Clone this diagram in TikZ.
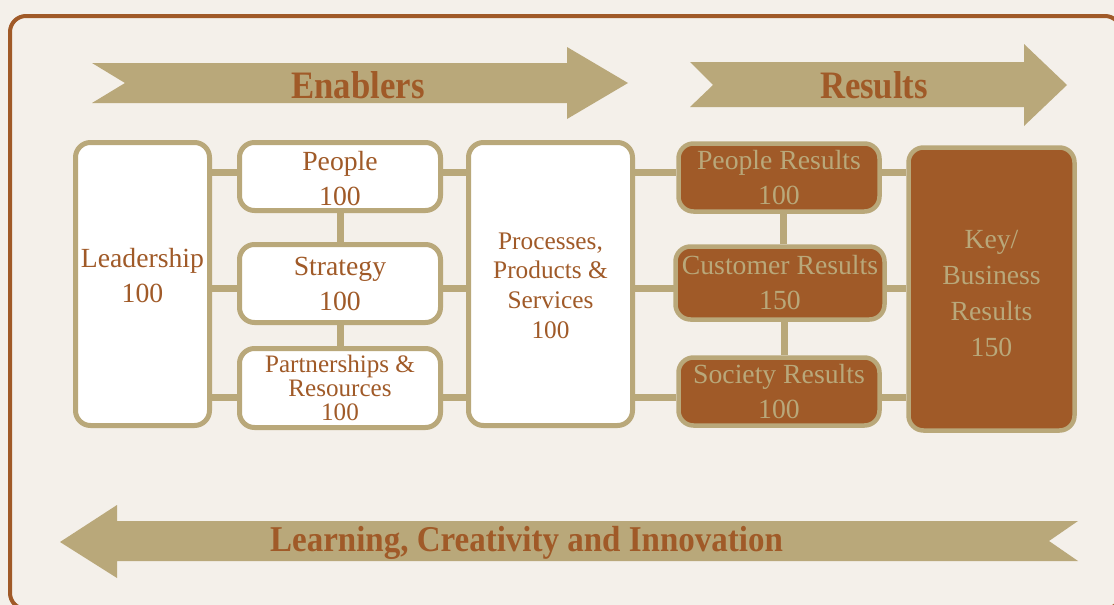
\documentclass[tikz,border=0pt]{standalone}
\usepackage{fontspec}
\setmainfont{Liberation Serif}
\usetikzlibrary{backgrounds}
\definecolor{bg}{HTML}{F4F0EA}
\definecolor{tan}{HTML}{B9A87A}
\definecolor{brn}{HTML}{A05A28}
\begin{document}
\begin{tikzpicture}[x=1pt,y=-1pt,
  wbox/.style={draw=tan,line width=5pt,fill=white,rounded corners=15pt,inner sep=0pt,text=brn,align=center},
  bbox/.style={draw=tan,line width=4.5pt,fill=brn,rounded corners=15pt,inner sep=0pt,text=tan,align=center},
  link/.style={draw=tan,line width=7pt},
  band/.style={fill=tan},
  ttl/.style={text=brn,inner sep=0pt,anchor=base},
  fbig/.style={font=\fontsize{27.7}{35}\selectfont},
  fkey/.style={font=\fontsize{27.7}{36}\selectfont},
  fpart/.style={font=\fontsize{25.1}{24.3}\selectfont},
  fproc/.style={font=\fontsize{25.3}{29.6}\selectfont}
]
\useasboundingbox (0,0) rectangle (1114,605);

% arrows
\fill[band] (92,63) -- (567,63) -- (567,47) -- (628,83) -- (567,119) -- (567,103) -- (92,103) -- (125,83) -- cycle;
\fill[band] (690,62) -- (1024,62) -- (1024,44) -- (1067,85) -- (1024,126) -- (1024,107) -- (690,107) -- (713,85) -- cycle;
\fill[band] (1078,521) -- (117,521) -- (117,505) -- (60,542) -- (117,578) -- (117,561) -- (1078,561) -- (1049,541) -- cycle;
\node[ttl,font=\fontsize{34.7}{40}\selectfont\bfseries] (en) at (358,98) {\scalebox{1}[1.12]{Enablers}};
\node[ttl,font=\fontsize{34.7}{40}\selectfont\bfseries] (re) at (874,98) {\scalebox{1}[1.12]{Results}};
\node[ttl,font=\fontsize{33}{40}\selectfont\bfseries] (lci) at (526.5,551) {\scalebox{1}[1.1]{Learning, Creativity and Innovation}};

% boxes
\node[wbox,minimum width=134pt,minimum height=283pt] (lead) at (142.5,284) {};
\node[text=brn,fbig,align=center,inner sep=0pt] (leadT) at ([yshift=8pt]lead.center) {Leadership\\100};
\node[wbox,fbig,minimum width=201pt,minimum height=68pt] (people) at (340,176.5) {};
\node[text=brn,fbig,align=center,inner sep=0pt] (peopleT) at ([yshift=-2pt]people.center) {People\\100};
\node[wbox,fbig,minimum width=201pt,minimum height=78pt] (strat) at (340,283.5) {Strategy\\100};
\node[wbox,fpart,minimum width=201pt,minimum height=79pt] (part) at (340,388) {Partnerships \&\\Resources\\100};
\node[wbox,fproc,minimum width=164pt,minimum height=283pt] (proc) at (550.5,284) {};
\node[text=brn,fproc,align=center,inner sep=0pt] (procT) at ([yshift=-1.5pt]proc.center) {Processes,\\Products \&\\Services\\100};
\node[bbox,fbig,minimum width=201pt,minimum height=68pt] (pres) at (779,177.5) {People Results\\100};
\node[bbox,fbig,minimum width=209pt,minimum height=73pt] (cres) at (780,283) {Customer Results\\150};
\node[bbox,fbig,minimum width=201pt,minimum height=68pt] (sres) at (779,391.5) {Society Results\\100};
\node[bbox,minimum width=166pt,minimum height=283pt] (key) at (991.5,289) {};
\node[text=tan,fkey,align=center,inner sep=0pt] (keyT) at ([yshift=-5pt]key.center) {Key/\\Business\\Results\\150};

\coordinate (r1) at (0,172);
\coordinate (r2) at (0,288);
\coordinate (r3) at (0,397);

\begin{scope}[on background layer]
\fill[bg] (0,0) rectangle (1114,605);
\draw[brn,line width=4pt,rounded corners=16pt] (10,16) rectangle (1121,609);
\foreach \r in {r1,r2,r3}{
  \path[link] (lead.east |- \r) -- (people.west |- \r);
  \path[link] (people.east |- \r) -- (proc.west |- \r);
  \path[link] (proc.east |- \r) -- (pres.west |- \r);
  \path[link] (pres.east |- \r) -- (key.west |- \r);
}
\path[link] (people.south) -- (strat.north);
\path[link] (strat.south) -- (part.north);
\path[link] ([xshift=4pt]pres.south) -- ([xshift=4pt]pres.south |- cres.north);
\path[link] ([xshift=4.5pt]cres.south) -- ([xshift=4.5pt]cres.south |- sres.north);
\end{scope}
\end{tikzpicture}
\end{document}
